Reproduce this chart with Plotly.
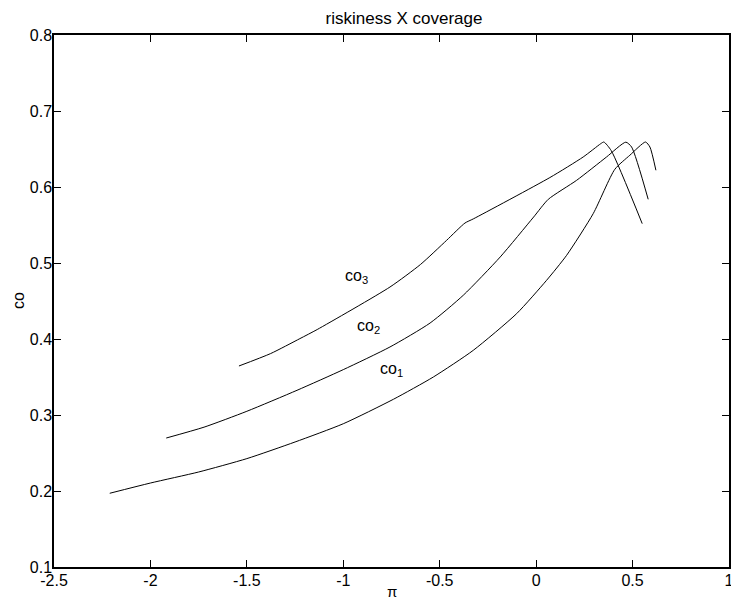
import plotly.graph_objects as go

# ---- data ----
co1_x = [-2.211, -2.0, -1.75, -1.5, -1.25, -1.0, -0.740, -0.533, -0.326,
         -0.101, 0.054, 0.158, 0.296, 0.408, 0.486, 0.567, 0.590, 0.621]
co1_y = [0.197, 0.2105, 0.225, 0.2426, 0.2645, 0.2885, 0.3207, 0.350, 0.3851,
         0.4334, 0.4772, 0.5101, 0.565, 0.6233, 0.6418, 0.6592, 0.6526, 0.622]

co2_x = [-1.918, -1.722, -1.5, -1.24, -1.0, -0.758, -0.55, -0.378, -0.186,
         -0.013, 0.063, 0.210, 0.365, 0.465, 0.495, 0.581]
co2_y = [0.2697, 0.284, 0.3049, 0.3325, 0.3597, 0.3895, 0.421, 0.4575, 0.508,
         0.5605, 0.5838, 0.6088, 0.6395, 0.659, 0.6526, 0.5838]

co3_x = [-1.541, -1.377, -1.225, -1.135, -0.758, -0.6, -0.464, -0.369, -0.326,
         0.071, 0.244, 0.335, 0.351, 0.389, 0.550]
co3_y = [0.3645, 0.3808, 0.4005, 0.4125, 0.4684, 0.498, 0.5299, 0.5526, 0.558,
         0.6124, 0.6395, 0.657, 0.6592, 0.648, 0.5518]

label_text = ["co<sub>1</sub>", "co<sub>2</sub>", "co<sub>3</sub>"]
label_x = [-0.750, -0.870, -0.932]
label_y = [0.360, 0.416, 0.4825]

x_ticks = [-2.5, -2, -1.5, -1, -0.5, 0, 0.5, 1]
x_ticktext = ["-2.5", "-2", "-1.5", "-1", "-0.5", "0", "0.5", "1"]
y_ticks = [0.1, 0.2, 0.3, 0.4, 0.5, 0.6, 0.7, 0.8]
y_ticktext = ["0.1", "0.2", "0.3", "0.4", "0.5", "0.6", "0.7", "0.8"]

FONT = "Liberation Sans, Arial, Helvetica, sans-serif"

fig = go.Figure()
for xs, ys, nm in [(co1_x, co1_y, "co1"), (co2_x, co2_y, "co2"), (co3_x, co3_y, "co3")]:
    fig.add_trace(go.Scatter(x=xs, y=ys, mode="lines", name=nm,
                             line=dict(color="black", width=1, shape="spline",
                                       smoothing=0.6),
                             showlegend=False, hoverinfo="skip"))

for t, x, y in zip(label_text, label_x, label_y):
    fig.add_annotation(x=x, y=y, text=t, showarrow=False, xref="x", yref="y",
                       font=dict(family=FONT, size=16, color="black"))

# axis titles as annotations (placed like the reference)
fig.add_annotation(x=(392 - 54) / 675, y=(567 - 601) / 532, xref="paper", yref="paper",
                   text="π", showarrow=False, xanchor="center", yanchor="bottom",
                   borderpad=0,
                   font=dict(family=FONT, size=15, color="black"))
fig.add_annotation(x=(18 - 54) / 675, y=0.5, xref="paper", yref="paper",
                   text="co", showarrow=False, textangle=-90,
                   xanchor="center", yanchor="middle",
                   font=dict(family=FONT, size=16, color="black"))

axis_common = dict(showgrid=False, zeroline=False, showline=True, linecolor="black",
                   linewidth=1.5, mirror="ticks", ticks="inside", ticklen=7,
                   tickcolor="black", tickwidth=1,
                   tickfont=dict(family=FONT, size=16, color="black"))

fig.update_layout(
    width=731, height=603,
    margin=dict(l=54, r=2, t=35, b=36, autoexpand=False),
    paper_bgcolor="white", plot_bgcolor="white",
    title=dict(text="riskiness X coverage", x=(404 - 54) / 675, xref="paper",
               xanchor="center", y=1 - 18 / 603, yref="container", yanchor="middle",
               font=dict(family=FONT, size=17, color="black")),
    xaxis=dict(range=[-2.5, 1], tickvals=x_ticks, ticktext=x_ticktext,
               ticklabeloverflow="allow", ticklabelstandoff=-2, **axis_common),
    yaxis=dict(range=[0.1, 0.8], tickvals=y_ticks, ticktext=y_ticktext,
               ticklabelstandoff=-3, **axis_common),
)

fig.write_html(
    "out.html",
    config={"displayModeBar": False},
    post_script="document.body.style.margin='0px';document.body.style.overflow='hidden';",
)
